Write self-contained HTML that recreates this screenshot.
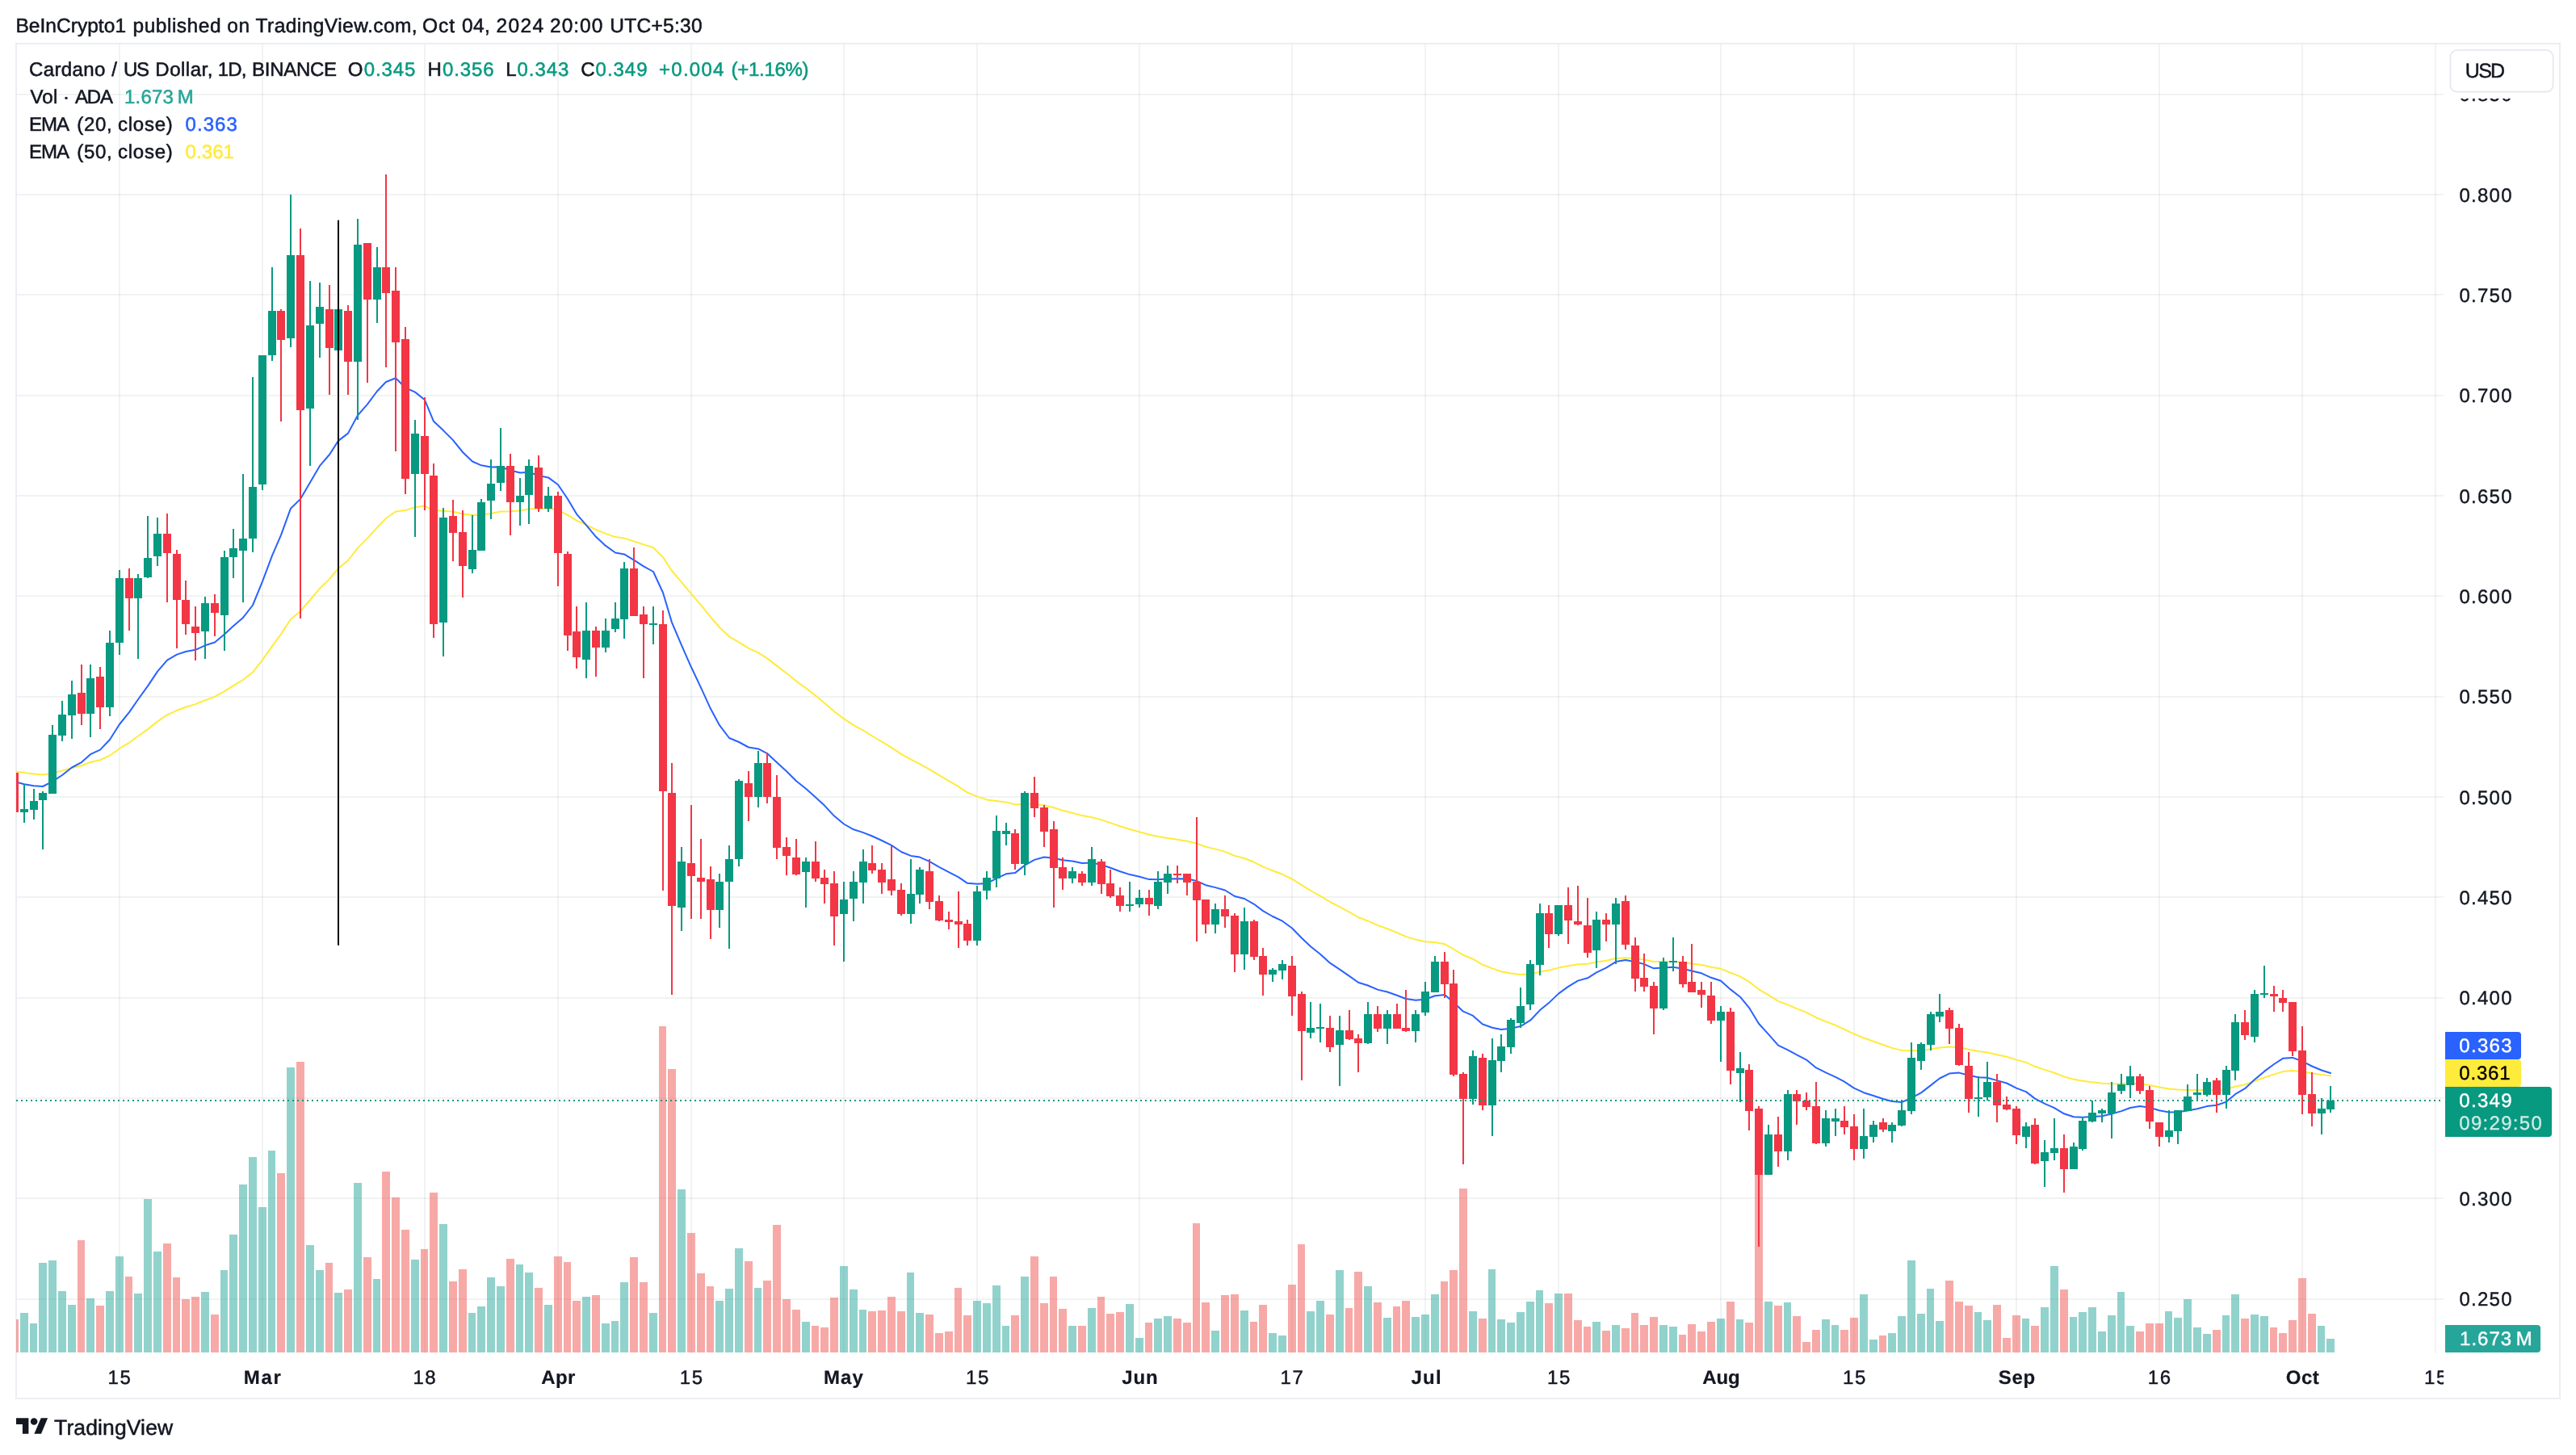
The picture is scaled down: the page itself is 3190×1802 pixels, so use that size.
<!DOCTYPE html><html><head><meta charset="utf-8"><title>ADAUSD</title><style>html,body{margin:0;padding:0;background:#fff}body{width:3190px;height:1802px;overflow:hidden}svg{display:block}text{font-family:"Liberation Sans",sans-serif;fill:#131722;-webkit-font-smoothing:antialiased;text-rendering:geometricPrecision}</style></head><body>
<svg width="3190" height="1802" viewBox="0 0 3190 1802" style="will-change:transform">
<rect width="3190" height="1802" fill="#fff"/>
<defs><clipPath id="cp"><rect x="20" y="55" width="2996" height="1621"/></clipPath><clipPath id="ct"><rect x="21" y="1676" width="3005" height="55"/></clipPath></defs>
<rect x="20" y="54" width="3150" height="1678" fill="none" stroke="#eceef3" stroke-width="2" shape-rendering="crispEdges"/>
<path d="M148 55v1621M325 55v1621M526 55v1621M691 55v1621M856 55v1621M1045 55v1621M1210 55v1621M1411 55v1621M1600 55v1621M1765 55v1621M1930 55v1621M2131 55v1621M2296 55v1621M2497 55v1621M2674 55v1621M2851 55v1621M3016 55V1676" stroke="#002525" stroke-opacity=".055" stroke-width="2" fill="none" shape-rendering="crispEdges"/>
<path d="M21 117H3026M21 241H3026M21 365H3026M21 490H3026M21 614H3026M21 738H3026M21 863H3026M21 987H3026M21 1111H3026M21 1236H3026M21 1360H3026M21 1484H3026M21 1609H3026" stroke="#002525" stroke-opacity=".055" stroke-width="2" fill="none" shape-rendering="crispEdges"/>
<g clip-path="url(#cp)" shape-rendering="crispEdges">
<path d="M25 1626h10V1675h-10zM37 1639h9V1675h-9zM48 1564h10V1675h-10zM60 1561h10V1675h-10zM72 1599h10V1675h-10zM84 1616h10V1675h-10zM107 1608h10V1675h-10zM131 1599h10V1675h-10zM143 1556h10V1675h-10zM166 1602h10V1675h-10zM178 1485h10V1675h-10zM190 1550h10V1675h-10zM249 1600h10V1675h-10zM273 1573h9V1675h-9zM284 1529h10V1675h-10zM296 1467h10V1675h-10zM308 1433h10V1675h-10zM320 1495h10V1675h-10zM332 1425h9V1675h-9zM355 1322h10V1675h-10zM379 1542h10V1675h-10zM391 1573h10V1675h-10zM414 1601h10V1675h-10zM438 1465h10V1675h-10zM462 1584h9V1675h-9zM509 1560h10V1675h-10zM544 1516h10V1675h-10zM580 1626h9V1675h-9zM591 1618h10V1675h-10zM603 1582h10V1675h-10zM615 1593h10V1675h-10zM639 1566h9V1675h-9zM650 1576h10V1675h-10zM674 1616h10V1675h-10zM721 1606h10V1675h-10zM745 1639h10V1675h-10zM757 1636h9V1675h-9zM768 1588h10V1675h-10zM804 1626h10V1675h-10zM839 1473h10V1675h-10zM886 1611h10V1675h-10zM898 1596h10V1675h-10zM910 1546h10V1675h-10zM934 1595h9V1675h-9zM993 1637h10V1675h-10zM1040 1568h10V1675h-10zM1052 1597h10V1675h-10zM1064 1622h9V1675h-9zM1123 1576h9V1675h-9zM1134 1626h10V1675h-10zM1205 1611h10V1675h-10zM1217 1614h10V1675h-10zM1229 1592h10V1675h-10zM1241 1642h9V1675h-9zM1264 1581h10V1675h-10zM1323 1642h10V1675h-10zM1347 1620h10V1675h-10zM1394 1615h10V1675h-10zM1406 1657h10V1675h-10zM1429 1633h10V1675h-10zM1441 1630h10V1675h-10zM1500 1648h10V1675h-10zM1536 1623h10V1675h-10zM1571 1651h10V1675h-10zM1583 1654h10V1675h-10zM1618 1624h10V1675h-10zM1630 1611h10V1675h-10zM1654 1573h10V1675h-10zM1689 1593h10V1675h-10zM1713 1632h10V1675h-10zM1748 1631h10V1675h-10zM1760 1628h10V1675h-10zM1772 1603h10V1675h-10zM1819 1624h10V1675h-10zM1843 1572h9V1675h-9zM1854 1634h10V1675h-10zM1866 1638h10V1675h-10zM1878 1625h10V1675h-10zM1890 1612h10V1675h-10zM1902 1598h9V1675h-9zM1925 1602h10V1675h-10zM1972 1637h10V1675h-10zM1996 1641h10V1675h-10zM2055 1641h10V1675h-10zM2067 1643h10V1675h-10zM2126 1633h10V1675h-10zM2150 1634h9V1675h-9zM2185 1612h10V1675h-10zM2209 1613h9V1675h-9zM2256 1634h10V1675h-10zM2268 1641h9V1675h-9zM2303 1603h10V1675h-10zM2315 1659h10V1675h-10zM2338 1651h10V1675h-10zM2350 1630h10V1675h-10zM2362 1561h10V1675h-10zM2374 1627h10V1675h-10zM2386 1596h9V1675h-9zM2397 1636h10V1675h-10zM2445 1625h9V1675h-9zM2456 1635h10V1675h-10zM2504 1633h9V1675h-9zM2527 1619h10V1675h-10zM2539 1568h10V1675h-10zM2563 1631h9V1675h-9zM2574 1625h10V1675h-10zM2586 1619h10V1675h-10zM2598 1649h10V1675h-10zM2610 1629h10V1675h-10zM2622 1600h9V1675h-9zM2633 1642h10V1675h-10zM2681 1624h9V1675h-9zM2692 1632h10V1675h-10zM2704 1609h10V1675h-10zM2716 1644h10V1675h-10zM2728 1652h10V1675h-10zM2752 1629h9V1675h-9zM2763 1603h10V1675h-10zM2787 1628h10V1675h-10zM2799 1630h10V1675h-10zM2870 1642h9V1675h-9zM2881 1658h10V1675h-10z" fill="#26a69a" fill-opacity=".5"/>
<path d="M13 1634h10V1675h-10zM96 1536h9V1675h-9zM119 1617h10V1675h-10zM155 1581h9V1675h-9zM202 1540h10V1675h-10zM214 1582h9V1675h-9zM225 1609h10V1675h-10zM237 1606h10V1675h-10zM261 1628h10V1675h-10zM343 1453h10V1675h-10zM367 1315h10V1675h-10zM403 1564h9V1675h-9zM426 1597h10V1675h-10zM450 1557h10V1675h-10zM473 1451h10V1675h-10zM485 1483h10V1675h-10zM497 1523h10V1675h-10zM521 1547h9V1675h-9zM532 1477h10V1675h-10zM556 1587h10V1675h-10zM568 1572h10V1675h-10zM627 1559h10V1675h-10zM662 1595h10V1675h-10zM686 1556h10V1675h-10zM698 1563h9V1675h-9zM709 1611h10V1675h-10zM733 1604h10V1675h-10zM780 1557h10V1675h-10zM792 1588h10V1675h-10zM816 1271h9V1675h-9zM827 1324h10V1675h-10zM851 1527h10V1675h-10zM863 1577h10V1675h-10zM875 1593h9V1675h-9zM922 1562h10V1675h-10zM945 1586h10V1675h-10zM957 1517h10V1675h-10zM969 1609h10V1675h-10zM981 1622h10V1675h-10zM1005 1642h9V1675h-9zM1016 1644h10V1675h-10zM1028 1607h10V1675h-10zM1075 1624h10V1675h-10zM1087 1623h10V1675h-10zM1099 1606h10V1675h-10zM1111 1624h10V1675h-10zM1146 1628h10V1675h-10zM1158 1651h10V1675h-10zM1170 1649h10V1675h-10zM1182 1595h9V1675h-9zM1193 1629h10V1675h-10zM1252 1629h10V1675h-10zM1276 1556h10V1675h-10zM1288 1614h10V1675h-10zM1300 1581h9V1675h-9zM1311 1621h10V1675h-10zM1335 1642h10V1675h-10zM1359 1606h9V1675h-9zM1370 1627h10V1675h-10zM1382 1625h10V1675h-10zM1418 1638h9V1675h-9zM1453 1633h10V1675h-10zM1465 1638h10V1675h-10zM1477 1515h9V1675h-9zM1488 1613h10V1675h-10zM1512 1604h10V1675h-10zM1524 1603h10V1675h-10zM1548 1637h9V1675h-9zM1559 1616h10V1675h-10zM1595 1591h10V1675h-10zM1607 1541h9V1675h-9zM1642 1628h10V1675h-10zM1666 1620h9V1675h-9zM1677 1575h10V1675h-10zM1701 1613h10V1675h-10zM1725 1618h9V1675h-9zM1736 1611h10V1675h-10zM1784 1587h9V1675h-9zM1795 1573h10V1675h-10zM1807 1472h10V1675h-10zM1831 1633h10V1675h-10zM1913 1614h10V1675h-10zM1937 1602h10V1675h-10zM1949 1635h10V1675h-10zM1961 1643h9V1675h-9zM1984 1648h10V1675h-10zM2008 1645h10V1675h-10zM2020 1626h9V1675h-9zM2031 1641h10V1675h-10zM2043 1631h10V1675h-10zM2079 1653h9V1675h-9zM2090 1640h10V1675h-10zM2102 1649h10V1675h-10zM2114 1637h10V1675h-10zM2138 1612h10V1675h-10zM2161 1638h10V1675h-10zM2173 1419h10V1675h-10zM2197 1617h10V1675h-10zM2220 1630h10V1675h-10zM2232 1662h10V1675h-10zM2244 1647h10V1675h-10zM2279 1647h10V1675h-10zM2291 1632h10V1675h-10zM2327 1654h9V1675h-9zM2409 1586h10V1675h-10zM2421 1612h10V1675h-10zM2433 1617h10V1675h-10zM2468 1616h10V1675h-10zM2480 1657h10V1675h-10zM2492 1629h10V1675h-10zM2515 1642h10V1675h-10zM2551 1597h10V1675h-10zM2645 1649h10V1675h-10zM2657 1639h10V1675h-10zM2669 1639h10V1675h-10zM2740 1647h10V1675h-10zM2775 1633h10V1675h-10zM2811 1644h9V1675h-9zM2822 1651h10V1675h-10zM2834 1635h10V1675h-10zM2846 1583h10V1675h-10zM2858 1627h10V1675h-10z" fill="#ef5350" fill-opacity=".5"/>
</g>
<g clip-path="url(#cp)" fill="none" stroke-linejoin="round" stroke-linecap="round" stroke-width="2">
<path d="M18 955.3L30 957.1L42 958.5L53 959.4L65 957.5L77 954.6L89 950.9L101 948.3L112 944.0L124 941.3L136 935.7L148 927.0L160 919.8L171 911.8L183 903.1L195 893.6L207 885.4L219 879.8L230 875.7L242 872.1L254 867.2L266 862.9L278 856.1L289 849.2L301 842.0L313 832.6L325 817.3L337 800.3L348 785.4L360 767.0L372 756.9L384 743.0L396 728.8L408 717.1L419 704.0L431 694.0L443 678.6L455 666.6L467 653.4L478 642.0L490 633.5L502 631.9L514 628.2L526 626.6L537 632.3L549 632.7L561 633.7L573 636.4L585 638.1L596 637.5L608 635.9L620 633.6L632 633.2L644 632.4L655 630.3L667 630.2L679 629.6L691 631.8L703 637.8L714 644.7L726 650.1L738 656.0L750 660.9L762 665.1L773 666.6L785 670.4L797 674.4L809 678.3L821 690.1L832 707.0L844 721.1L856 735.4L868 749.4L880 764.2L891 777.0L903 788.3L915 795.3L927 802.8L939 808.4L950 815.4L962 824.6L974 833.8L986 843.6L998 852.3L1010 861.6L1021 870.7L1033 881.1L1045 890.2L1057 898.1L1069 904.7L1080 911.5L1092 918.6L1104 925.9L1116 933.9L1128 940.7L1139 946.1L1151 952.8L1163 960.1L1175 967.2L1187 974.2L1198 981.6L1210 986.4L1222 990.4L1234 991.9L1246 993.4L1257 996.4L1269 995.8L1281 996.0L1293 997.3L1305 1000.3L1316 1003.8L1328 1006.7L1340 1010.1L1352 1012.2L1364 1015.4L1375 1019.1L1387 1023.2L1399 1027.0L1411 1030.3L1423 1033.8L1434 1036.1L1446 1037.9L1458 1039.7L1470 1041.8L1482 1044.7L1493 1048.6L1505 1051.6L1517 1054.9L1529 1059.9L1541 1063.0L1553 1067.8L1564 1073.3L1576 1078.3L1588 1082.8L1600 1088.7L1612 1096.1L1623 1103.0L1635 1109.7L1647 1117.0L1659 1123.2L1671 1129.7L1682 1136.0L1694 1140.7L1706 1145.9L1718 1150.3L1730 1155.1L1741 1159.9L1753 1163.6L1765 1166.2L1777 1167.1L1789 1169.2L1800 1175.5L1812 1182.8L1824 1187.7L1836 1194.8L1848 1199.4L1859 1203.2L1871 1205.5L1883 1207.1L1895 1206.6L1907 1203.6L1918 1201.8L1930 1198.6L1942 1196.3L1954 1194.3L1966 1193.7L1977 1191.6L1989 1189.7L2001 1186.9L2013 1186.3L2025 1187.3L2036 1188.6L2048 1191.0L2060 1191.0L2072 1190.9L2084 1192.0L2095 1193.5L2107 1195.0L2119 1197.7L2131 1199.8L2143 1204.8L2155 1209.4L2166 1215.9L2178 1225.3L2190 1232.3L2202 1239.9L2214 1244.4L2225 1249.1L2237 1253.9L2249 1260.2L2261 1265.1L2273 1269.8L2284 1274.8L2296 1280.6L2308 1285.5L2320 1289.7L2332 1294.0L2343 1297.9L2355 1300.9L2367 1301.3L2379 1300.9L2391 1299.2L2402 1297.4L2414 1296.4L2426 1297.3L2438 1299.8L2450 1302.1L2461 1303.6L2473 1306.2L2485 1308.8L2497 1312.6L2509 1315.9L2520 1320.8L2532 1324.9L2544 1328.7L2556 1333.4L2568 1336.8L2579 1338.8L2591 1340.3L2603 1341.7L2615 1342.1L2627 1342.2L2638 1341.8L2650 1342.2L2662 1344.0L2674 1346.5L2686 1348.6L2697 1349.6L2709 1350.0L2721 1350.1L2733 1349.7L2745 1349.9L2757 1348.9L2768 1345.7L2780 1343.2L2792 1338.8L2804 1334.5L2816 1330.6L2827 1327.1L2839 1326.1L2851 1327.3L2863 1329.3L2875 1331.0L2886 1332.3" stroke="#ffeb3b"/>
<path d="M18 968.0L30 971.2L42 973.2L53 974.0L65 967.9L77 960.0L89 950.5L101 944.1L112 934.2L124 928.6L136 916.0L148 897.0L160 882.1L171 866.3L183 849.6L195 831.6L207 817.6L219 810.6L230 807.0L242 804.8L254 799.3L266 795.5L278 785.4L289 775.3L301 764.9L313 749.5L325 720.1L337 688.2L348 662.7L360 629.7L372 618.1L384 597.6L396 576.9L408 563.0L419 545.9L431 536.6L443 514.3L455 500.7L467 484.5L478 473.0L490 468.3L502 480.2L514 485.6L526 495.3L537 521.8L549 533.1L561 545.1L573 560.0L585 571.5L596 576.3L608 578.5L620 578.3L632 582.5L644 585.5L655 584.7L667 589.0L679 591.4L691 600.2L703 618.0L714 636.6L726 650.4L738 664.8L750 675.9L762 684.5L773 686.4L785 693.7L797 701.3L809 708.0L821 734.0L832 770.9L844 799.1L856 826.3L868 851.6L880 877.8L891 898.2L903 914.0L915 919.0L927 925.5L939 927.4L950 933.1L962 944.2L974 955.2L986 967.3L998 976.8L1010 987.4L1021 997.6L1033 1010.6L1045 1020.5L1057 1027.3L1069 1031.1L1080 1035.5L1092 1041.0L1104 1046.9L1116 1055.0L1128 1059.9L1139 1061.6L1151 1066.8L1163 1073.8L1175 1080.2L1187 1086.4L1198 1093.8L1210 1094.8L1222 1094.1L1234 1087.9L1246 1082.3L1257 1081.1L1269 1071.6L1281 1064.9L1293 1061.5L1305 1062.8L1316 1065.2L1328 1066.5L1340 1069.0L1352 1068.5L1364 1071.0L1375 1074.7L1387 1079.2L1399 1083.1L1411 1085.8L1423 1089.1L1434 1089.3L1446 1088.6L1458 1088.2L1470 1088.6L1482 1091.1L1493 1096.2L1505 1099.1L1517 1102.5L1529 1110.0L1541 1113.0L1553 1119.8L1564 1128.1L1576 1135.0L1588 1140.7L1600 1149.5L1612 1161.7L1623 1172.2L1635 1181.7L1647 1192.7L1659 1200.6L1671 1208.9L1682 1216.8L1694 1220.5L1706 1225.6L1718 1228.5L1730 1232.8L1741 1237.0L1753 1238.8L1765 1237.7L1777 1233.3L1789 1231.9L1800 1241.3L1812 1252.7L1824 1257.9L1836 1268.5L1848 1272.7L1859 1274.9L1871 1273.8L1883 1271.1L1895 1263.7L1907 1251.1L1918 1242.1L1930 1230.6L1942 1221.9L1954 1214.6L1966 1211.3L1977 1204.4L1989 1198.7L2001 1191.1L2013 1189.1L2025 1191.2L2036 1194.1L2048 1199.3L2060 1198.5L2072 1197.7L2084 1199.7L2095 1202.5L2107 1205.3L2119 1210.8L2131 1214.8L2143 1225.4L2155 1234.7L2166 1248.1L2178 1267.8L2190 1280.9L2202 1294.7L2214 1300.4L2225 1306.4L2237 1312.6L2249 1322.4L2261 1328.4L2273 1333.8L2284 1339.7L2296 1347.6L2308 1353.2L2320 1357.0L2332 1361.0L2343 1364.0L2355 1365.0L2367 1359.8L2379 1353.4L2391 1344.1L2402 1335.5L2414 1329.6L2426 1328.6L2438 1331.7L2450 1334.3L2461 1334.8L2473 1338.1L2485 1341.5L2497 1347.6L2509 1352.1L2520 1360.6L2532 1366.9L2544 1372.1L2556 1379.3L2568 1383.2L2579 1383.7L2591 1383.1L2603 1382.3L2615 1379.5L2627 1376.1L2638 1372.0L2650 1370.0L2662 1371.8L2674 1375.2L2686 1377.6L2697 1377.3L2709 1375.5L2721 1373.3L2733 1370.1L2745 1368.8L2757 1364.6L2768 1355.2L2780 1348.2L2792 1337.1L2804 1326.9L2816 1318.0L2827 1310.8L2839 1309.9L2851 1314.3L2863 1320.5L2875 1325.5L2886 1329.0" stroke="#2962ff"/>
</g>
<g clip-path="url(#cp)" shape-rendering="crispEdges">
<path d="M29 971h2V1019h-2zM25 1002h10V1006h-10zM41 977h2V1015h-2zM37 992h10V1003h-10zM52 980h2V1052h-2zM48 982h10V991h-10zM64 898h2V983h-2zM60 910h10V983h-10zM76 868h2V918h-2zM72 885h10V911h-10zM88 843h2V915h-2zM84 860h10V886h-10zM111 823h2V913h-2zM107 840h10V884h-10zM135 781h2V887h-2zM131 796h10V876h-10zM147 706h2V811h-2zM143 716h10V796h-10zM170 711h2V816h-2zM166 716h10V741h-10zM182 639h2V716h-2zM178 691h10V715h-10zM194 641h2V701h-2zM190 661h10V689h-10zM253 739h2V816h-2zM249 747h10V782h-10zM277 682h2V806h-2zM273 690h10V762h-10zM288 655h2V716h-2zM284 679h10V690h-10zM300 587h2V746h-2zM296 667h10V682h-10zM312 467h2V684h-2zM308 603h10V667h-10zM324 440h2V607h-2zM320 440h10V600h-10zM336 331h2V447h-2zM332 385h10V440h-10zM359 241h2V430h-2zM355 316h10V419h-10zM383 348h2V577h-2zM379 403h10V506h-10zM395 350h2V443h-2zM391 380h10V401h-10zM418 373h2V438h-2zM414 383h10V434h-10zM442 271h2V520h-2zM438 303h10V448h-10zM466 306h2V400h-2zM462 331h10V371h-10zM513 520h2V665h-2zM509 537h10V587h-10zM548 629h2V813h-2zM544 641h10V771h-10zM584 638h2V710h-2zM580 681h10V705h-10zM595 618h2V682h-2zM591 622h10V682h-10zM607 569h2V643h-2zM603 599h10V620h-10zM619 530h2V608h-2zM615 577h10V598h-10zM643 592h2V651h-2zM639 614h10V622h-10zM654 569h2V649h-2zM650 577h10V613h-10zM678 603h2V634h-2zM674 614h10V630h-10zM725 746h2V840h-2zM721 781h10V817h-10zM749 766h2V808h-2zM745 781h10V802h-10zM761 746h2V783h-2zM757 766h10V779h-10zM772 696h2V791h-2zM768 704h10V767h-10zM808 751h2V798h-2zM804 772h10V774h-10zM843 1049h2V1153h-2zM839 1067h10V1124h-10zM890 1082h2V1149h-2zM886 1092h10V1127h-10zM902 1047h2V1175h-2zM898 1064h10V1092h-10zM914 965h2V1073h-2zM910 967h10V1064h-10zM938 930h2V1000h-2zM934 945h10V987h-10zM997 1062h2V1124h-2zM993 1067h10V1080h-10zM1044 1092h2V1191h-2zM1040 1114h10V1132h-10zM1056 1079h2V1141h-2zM1052 1092h10V1113h-10zM1068 1052h2V1119h-2zM1064 1067h10V1093h-10zM1127 1064h2V1144h-2zM1123 1107h10V1132h-10zM1138 1074h2V1119h-2zM1134 1077h10V1108h-10zM1209 1097h2V1171h-2zM1205 1104h10V1165h-10zM1221 1079h2V1114h-2zM1217 1087h10V1103h-10zM1233 1010h2V1099h-2zM1229 1029h10V1088h-10zM1245 1019h2V1047h-2zM1241 1029h10V1033h-10zM1268 980h2V1084h-2zM1264 982h10V1070h-10zM1327 1074h2V1094h-2zM1323 1079h10V1088h-10zM1351 1049h2V1097h-2zM1347 1064h10V1093h-10zM1398 1092h2V1129h-2zM1394 1120h10V1122h-10zM1410 1102h2V1124h-2zM1406 1112h10V1120h-10zM1433 1079h2V1126h-2zM1429 1092h10V1122h-10zM1445 1072h2V1107h-2zM1441 1082h10V1093h-10zM1504 1119h2V1156h-2zM1500 1126h10V1145h-10zM1540 1124h2V1201h-2zM1536 1141h10V1182h-10zM1575 1199h2V1216h-2zM1571 1201h10V1207h-10zM1587 1189h2V1213h-2zM1583 1194h10V1202h-10zM1622 1241h2V1286h-2zM1618 1273h10V1279h-10zM1634 1243h2V1291h-2zM1630 1272h10V1274h-10zM1658 1258h2V1345h-2zM1654 1276h10V1294h-10zM1693 1241h2V1293h-2zM1689 1256h10V1292h-10zM1717 1251h2V1293h-2zM1713 1256h10V1274h-10zM1752 1251h2V1291h-2zM1748 1256h10V1277h-10zM1764 1216h2V1258h-2zM1760 1228h10V1254h-10zM1776 1184h2V1229h-2zM1772 1191h10V1229h-10zM1823 1301h2V1368h-2zM1819 1308h10V1361h-10zM1847 1286h2V1407h-2zM1843 1313h10V1369h-10zM1858 1281h2V1328h-2zM1854 1296h10V1314h-10zM1870 1261h2V1305h-2zM1866 1263h10V1297h-10zM1882 1223h2V1273h-2zM1878 1246h10V1267h-10zM1894 1189h2V1251h-2zM1890 1194h10V1244h-10zM1906 1119h2V1208h-2zM1902 1131h10V1195h-10zM1929 1121h2V1159h-2zM1925 1121h10V1157h-10zM1976 1129h2V1199h-2zM1972 1139h10V1177h-10zM2000 1112h2V1194h-2zM1996 1119h10V1145h-10zM2059 1186h2V1251h-2zM2055 1191h10V1249h-10zM2071 1161h2V1203h-2zM2067 1190h10V1192h-10zM2130 1246h2V1315h-2zM2126 1253h10V1264h-10zM2154 1303h2V1365h-2zM2150 1323h10V1329h-10zM2189 1393h2V1455h-2zM2185 1405h10V1455h-10zM2213 1350h2V1437h-2zM2209 1355h10V1426h-10zM2260 1375h2V1420h-2zM2256 1385h10V1416h-10zM2272 1373h2V1407h-2zM2268 1385h10V1389h-10zM2307 1373h2V1435h-2zM2303 1407h10V1423h-10zM2319 1388h2V1415h-2zM2315 1393h10V1408h-10zM2342 1390h2V1415h-2zM2338 1393h10V1401h-10zM2354 1362h2V1395h-2zM2350 1375h10V1394h-10zM2366 1291h2V1380h-2zM2362 1310h10V1376h-10zM2378 1291h2V1325h-2zM2374 1293h10V1314h-10zM2390 1253h2V1301h-2zM2386 1256h10V1294h-10zM2401 1231h2V1266h-2zM2397 1253h10V1259h-10zM2449 1333h2V1383h-2zM2445 1359h10V1361h-10zM2460 1315h2V1363h-2zM2456 1340h10V1359h-10zM2508 1390h2V1422h-2zM2504 1395h10V1408h-10zM2531 1412h2V1470h-2zM2527 1427h10V1438h-10zM2543 1385h2V1437h-2zM2539 1422h10V1428h-10zM2567 1415h2V1448h-2zM2563 1420h10V1448h-10zM2578 1383h2V1425h-2zM2574 1388h10V1423h-10zM2590 1363h2V1390h-2zM2586 1378h10V1389h-10zM2602 1373h2V1390h-2zM2598 1375h10V1379h-10zM2614 1340h2V1410h-2zM2610 1353h10V1379h-10zM2626 1330h2V1355h-2zM2622 1343h10V1351h-10zM2637 1320h2V1360h-2zM2633 1333h10V1344h-10zM2685 1375h2V1415h-2zM2681 1400h10V1408h-10zM2696 1375h2V1417h-2zM2692 1375h10V1401h-10zM2708 1343h2V1376h-2zM2704 1358h10V1376h-10zM2720 1330h2V1364h-2zM2716 1353h10V1356h-10zM2732 1335h2V1358h-2zM2728 1340h10V1356h-10zM2756 1320h2V1373h-2zM2752 1325h10V1356h-10zM2767 1256h2V1338h-2zM2763 1266h10V1326h-10zM2791 1226h2V1291h-2zM2787 1231h10V1284h-10zM2803 1196h2V1236h-2zM2799 1230h10V1232h-10zM2874 1360h2V1405h-2zM2870 1373h10V1379h-10zM2885 1345h2V1378h-2zM2881 1363h10V1374h-10z" fill="#089981"/>
<path d="M17 950h2V1012h-2zM13 957h10V1006h-10zM100 823h2V898h-2zM96 858h10V884h-10zM123 826h2V903h-2zM119 838h10V876h-10zM159 704h2V781h-2zM155 716h10V741h-10zM206 636h2V746h-2zM202 661h10V685h-10zM218 681h2V803h-2zM214 686h10V743h-10zM229 719h2V786h-2zM225 743h10V773h-10zM241 751h2V818h-2zM237 776h10V784h-10zM265 736h2V788h-2zM261 747h10V759h-10zM347 383h2V522h-2zM343 385h10V421h-10zM371 283h2V766h-2zM367 316h10V508h-10zM407 353h2V489h-2zM403 383h10V431h-10zM430 378h2V489h-2zM426 385h10V448h-10zM454 301h2V474h-2zM450 301h10V371h-10zM477 216h2V455h-2zM473 331h10V363h-10zM489 331h2V559h-2zM485 360h10V424h-10zM501 405h2V612h-2zM497 420h10V593h-10zM525 492h2V632h-2zM521 540h10V587h-10zM536 574h2V790h-2zM532 589h10V773h-10zM560 619h2V695h-2zM556 639h10V660h-10zM572 632h2V740h-2zM568 659h10V701h-10zM631 562h2V663h-2zM627 577h10V622h-10zM666 564h2V634h-2zM662 579h10V630h-10zM690 609h2V726h-2zM686 614h10V685h-10zM702 683h2V806h-2zM698 686h10V787h-10zM713 751h2V828h-2zM709 782h10V814h-10zM737 776h2V838h-2zM733 781h10V802h-10zM784 678h2V763h-2zM780 704h10V763h-10zM796 751h2V840h-2zM792 761h10V773h-10zM820 756h2V1103h-2zM816 773h10V980h-10zM831 945h2V1232h-2zM827 982h10V1122h-10zM855 997h2V1138h-2zM851 1069h10V1085h-10zM867 1039h2V1138h-2zM863 1087h10V1092h-10zM879 1073h2V1163h-2zM875 1089h10V1127h-10zM926 955h2V1017h-2zM922 970h10V987h-10zM949 932h2V995h-2zM945 945h10V987h-10zM961 960h2V1064h-2zM957 987h10V1050h-10zM973 1037h2V1084h-2zM969 1049h10V1060h-10zM985 1039h2V1084h-2zM981 1062h10V1083h-10zM1009 1042h2V1092h-2zM1005 1067h10V1088h-10zM1020 1077h2V1119h-2zM1016 1087h10V1095h-10zM1032 1079h2V1171h-2zM1028 1094h10V1135h-10zM1079 1047h2V1082h-2zM1075 1069h10V1078h-10zM1091 1069h2V1107h-2zM1087 1077h10V1093h-10zM1103 1047h2V1109h-2zM1099 1089h10V1103h-10zM1115 1094h2V1134h-2zM1111 1102h10V1132h-10zM1150 1064h2V1126h-2zM1146 1079h10V1117h-10zM1162 1109h2V1141h-2zM1158 1116h10V1140h-10zM1174 1129h2V1151h-2zM1170 1139h10V1142h-10zM1186 1104h2V1174h-2zM1182 1141h10V1145h-10zM1197 1139h2V1171h-2zM1193 1144h10V1165h-10zM1256 1027h2V1077h-2zM1252 1032h10V1070h-10zM1280 962h2V1012h-2zM1276 982h10V1001h-10zM1292 997h2V1049h-2zM1288 1000h10V1030h-10zM1304 1017h2V1124h-2zM1300 1027h10V1075h-10zM1315 1062h2V1102h-2zM1311 1074h10V1088h-10zM1339 1079h2V1097h-2zM1335 1082h10V1093h-10zM1363 1064h2V1107h-2zM1359 1067h10V1095h-10zM1374 1077h2V1112h-2zM1370 1094h10V1110h-10zM1386 1099h2V1129h-2zM1382 1109h10V1122h-10zM1422 1102h2V1134h-2zM1418 1112h10V1120h-10zM1457 1072h2V1094h-2zM1453 1082h10V1084h-10zM1469 1082h2V1109h-2zM1465 1082h10V1093h-10zM1481 1012h2V1166h-2zM1477 1092h10V1115h-10zM1492 1114h2V1156h-2zM1488 1114h10V1145h-10zM1516 1109h2V1149h-2zM1512 1126h10V1135h-10zM1528 1131h2V1204h-2zM1524 1134h10V1182h-10zM1552 1139h2V1189h-2zM1548 1141h10V1185h-10zM1563 1174h2V1233h-2zM1559 1184h10V1207h-10zM1599 1184h2V1258h-2zM1595 1196h10V1234h-10zM1611 1228h2V1338h-2zM1607 1231h10V1277h-10zM1646 1258h2V1303h-2zM1642 1273h10V1297h-10zM1670 1251h2V1288h-2zM1666 1276h10V1287h-10zM1681 1281h2V1328h-2zM1677 1286h10V1292h-10zM1705 1246h2V1278h-2zM1701 1256h10V1274h-10zM1729 1243h2V1274h-2zM1725 1256h10V1274h-10zM1740 1226h2V1278h-2zM1736 1273h10V1277h-10zM1788 1179h2V1236h-2zM1784 1191h10V1219h-10zM1799 1201h2V1333h-2zM1795 1218h10V1331h-10zM1811 1328h2V1442h-2zM1807 1330h10V1361h-10zM1835 1305h2V1375h-2zM1831 1310h10V1369h-10zM1917 1121h2V1174h-2zM1913 1131h10V1157h-10zM1941 1099h2V1169h-2zM1937 1121h10V1140h-10zM1953 1097h2V1146h-2zM1949 1141h10V1145h-10zM1965 1112h2V1186h-2zM1961 1146h10V1180h-10zM1988 1131h2V1166h-2zM1984 1139h10V1145h-10zM2012 1109h2V1176h-2zM2008 1116h10V1170h-10zM2024 1161h2V1228h-2zM2020 1171h10V1212h-10zM2035 1181h2V1228h-2zM2031 1211h10V1222h-10zM2047 1216h2V1281h-2zM2043 1221h10V1249h-10zM2083 1184h2V1223h-2zM2079 1191h10V1219h-10zM2094 1169h2V1229h-2zM2090 1216h10V1229h-10zM2106 1216h2V1248h-2zM2102 1226h10V1232h-10zM2118 1216h2V1268h-2zM2114 1233h10V1264h-10zM2142 1248h2V1343h-2zM2138 1253h10V1326h-10zM2165 1318h2V1400h-2zM2161 1325h10V1376h-10zM2177 1370h2V1544h-2zM2173 1373h10V1455h-10zM2201 1383h2V1445h-2zM2197 1405h10V1426h-10zM2224 1350h2V1393h-2zM2220 1355h10V1364h-10zM2236 1353h2V1375h-2zM2232 1363h10V1371h-10zM2248 1340h2V1417h-2zM2244 1370h10V1416h-10zM2283 1370h2V1405h-2zM2279 1388h10V1396h-10zM2295 1380h2V1437h-2zM2291 1395h10V1423h-10zM2331 1385h2V1402h-2zM2327 1390h10V1399h-10zM2413 1248h2V1293h-2zM2409 1251h10V1274h-10zM2425 1268h2V1320h-2zM2421 1273h10V1319h-10zM2437 1303h2V1378h-2zM2433 1320h10V1361h-10zM2472 1330h2V1390h-2zM2468 1340h10V1369h-10zM2484 1358h2V1375h-2zM2480 1368h10V1374h-10zM2496 1370h2V1417h-2zM2492 1373h10V1406h-10zM2519 1385h2V1442h-2zM2515 1393h10V1441h-10zM2555 1405h2V1477h-2zM2551 1422h10V1448h-10zM2649 1330h2V1355h-2zM2645 1333h10V1351h-10zM2661 1345h2V1398h-2zM2657 1350h10V1389h-10zM2673 1390h2V1420h-2zM2669 1390h10V1408h-10zM2744 1335h2V1378h-2zM2740 1338h10V1356h-10zM2779 1251h2V1288h-2zM2775 1266h10V1282h-10zM2815 1221h2V1253h-2zM2811 1231h10V1234h-10zM2826 1226h2V1253h-2zM2822 1236h10V1242h-10zM2838 1241h2V1308h-2zM2834 1241h10V1302h-10zM2850 1271h2V1380h-2zM2846 1301h10V1356h-10zM2862 1328h2V1395h-2zM2858 1355h10V1379h-10z" fill="#f23645"/>
</g>
<path d="M419 273.5V1170" stroke="#000" stroke-width="2" stroke-linecap="round"/>
<path d="M20 1363H3023" stroke="#089981" stroke-width="2" stroke-dasharray="2 4" stroke-dashoffset="0" shape-rendering="crispEdges"/>
<text x="3045.50" y="125.3" font-size="24" letter-spacing="1.247" style="stroke:#131722;stroke-width:0.4">0.850</text>
<text x="3045.50" y="249.6" font-size="24" letter-spacing="1.247" style="stroke:#131722;stroke-width:0.4">0.800</text>
<text x="3045.50" y="373.9" font-size="24" letter-spacing="1.247" style="stroke:#131722;stroke-width:0.4">0.750</text>
<text x="3045.50" y="498.3" font-size="24" letter-spacing="1.247" style="stroke:#131722;stroke-width:0.4">0.700</text>
<text x="3045.50" y="622.6" font-size="24" letter-spacing="1.247" style="stroke:#131722;stroke-width:0.4">0.650</text>
<text x="3045.50" y="746.9" font-size="24" letter-spacing="1.247" style="stroke:#131722;stroke-width:0.4">0.600</text>
<text x="3045.50" y="871.3" font-size="24" letter-spacing="1.247" style="stroke:#131722;stroke-width:0.4">0.550</text>
<text x="3045.50" y="995.6" font-size="24" letter-spacing="1.247" style="stroke:#131722;stroke-width:0.4">0.500</text>
<text x="3045.50" y="1119.9" font-size="24" letter-spacing="1.247" style="stroke:#131722;stroke-width:0.4">0.450</text>
<text x="3045.50" y="1244.3" font-size="24" letter-spacing="1.247" style="stroke:#131722;stroke-width:0.4">0.400</text>
<text x="3045.50" y="1368.6" font-size="24" letter-spacing="1.247" style="stroke:#131722;stroke-width:0.4">0.350</text>
<text x="3045.50" y="1492.9" font-size="24" letter-spacing="1.247" style="stroke:#131722;stroke-width:0.4">0.300</text>
<text x="3045.50" y="1617.3" font-size="24" letter-spacing="1.247" style="stroke:#131722;stroke-width:0.4">0.250</text>
<rect x="3027" y="56" width="141" height="66" fill="#fff"/>
<rect x="3034.4" y="62.2" width="127.2" height="51.5" rx="8" fill="#fff" stroke="#e6e8ef" stroke-width="1.8"/>
<text x="3052.85" y="96" font-size="25" letter-spacing="-1.765" style="stroke:#131722;stroke-width:0.45">USD</text>
<path d="M3028 1278H3118a4 4 0 0 1 4 4V1308a4 4 0 0 1 -4 4H3028z" fill="#2962ff"/>
<path d="M3028 1312H3118a4 4 0 0 1 4 4V1342a4 4 0 0 1 -4 4H3028z" fill="#ffeb3b"/>
<path d="M3028 1346H3156a4 4 0 0 1 4 4V1404a4 4 0 0 1 -4 4H3028z" fill="#089981"/>
<path d="M3028 1641H3142a4 4 0 0 1 4 4V1671a4 4 0 0 1 -4 4H3028z" fill="#26a69a"/>
<text x="3045.30" y="1303.3" font-size="24" letter-spacing="1.297" style="fill:#fff;stroke:#fff;stroke-width:0.4">0.363</text>
<text x="3045.30" y="1337.3" font-size="24" letter-spacing="0.797" style="fill:#000;stroke:#000;stroke-width:0.4">0.361</text>
<text x="3045.30" y="1371.3" font-size="24" letter-spacing="1.297" style="fill:#fff;stroke:#fff;stroke-width:0.4">0.349</text>
<text x="3045.30" y="1399.2" font-size="24" letter-spacing="1.289" style="fill:#cfebe6;stroke:#cfebe6;stroke-width:0.3">09:29:50</text>
<text x="3046.10" y="1666.2" font-size="24" letter-spacing="0.997" style="fill:#fff;stroke:#fff;stroke-width:0.4">1.673</text>
<text x="3115.70" y="1666.2" font-size="24" style="fill:#fff;stroke:#fff;stroke-width:0.4">M</text>
<g clip-path="url(#ct)">
<text x="133.62" y="1714.3" font-size="24" letter-spacing="1.652" style="stroke:#131722;stroke-width:0.45">15</text>
<text x="301.83" y="1714.3" font-size="24" letter-spacing="1.680" font-weight="bold" style="stroke:#131722;stroke-width:0.2">Mar</text>
<text x="511.55" y="1714.3" font-size="24" letter-spacing="1.252" style="stroke:#131722;stroke-width:0.45">18</text>
<text x="670.16" y="1714.3" font-size="24" letter-spacing="0.454" font-weight="bold" style="stroke:#131722;stroke-width:0.2">Apr</text>
<text x="841.86" y="1714.3" font-size="24" letter-spacing="1.652" style="stroke:#131722;stroke-width:0.45">15</text>
<text x="1019.98" y="1714.3" font-size="24" letter-spacing="1.080" font-weight="bold" style="stroke:#131722;stroke-width:0.2">May</text>
<text x="1195.98" y="1714.3" font-size="24" letter-spacing="1.652" style="stroke:#131722;stroke-width:0.45">15</text>
<text x="1389.20" y="1714.3" font-size="24" letter-spacing="0.946" font-weight="bold" style="stroke:#131722;stroke-width:0.2">Jun</text>
<text x="1585.62" y="1714.3" font-size="24" letter-spacing="1.452" style="stroke:#131722;stroke-width:0.45">17</text>
<text x="1747.42" y="1714.3" font-size="24" letter-spacing="1.346" font-weight="bold" style="stroke:#131722;stroke-width:0.2">Jul</text>
<text x="1916.03" y="1714.3" font-size="24" letter-spacing="1.652" style="stroke:#131722;stroke-width:0.45">15</text>
<text x="2108.30" y="1714.3" font-size="24" letter-spacing="-0.096" font-weight="bold" style="stroke:#131722;stroke-width:0.2">Aug</text>
<text x="2281.95" y="1714.3" font-size="24" letter-spacing="1.652" style="stroke:#131722;stroke-width:0.45">15</text>
<text x="2474.77" y="1714.3" font-size="24" letter-spacing="0.672" font-weight="bold" style="stroke:#131722;stroke-width:0.2">Sep</text>
<text x="2659.68" y="1714.3" font-size="24" letter-spacing="1.652" style="stroke:#131722;stroke-width:0.45">16</text>
<text x="2830.64" y="1714.3" font-size="24" letter-spacing="0.592" font-weight="bold" style="stroke:#131722;stroke-width:0.2">Oct</text>
<text x="3002.00" y="1714.3" font-size="24" letter-spacing="1.652" style="stroke:#131722;stroke-width:0.45">15</text>
</g>
<text x="19.40" y="40.4" font-size="24.5" letter-spacing="0.044" style="stroke:#131722;stroke-width:0.55">BeInCrypto1</text>
<text x="164.50" y="40.4" font-size="24.5" letter-spacing="0.517" style="stroke:#131722;stroke-width:0.55">published</text>
<text x="281.20" y="40.4" font-size="24.5" letter-spacing="0.574" style="stroke:#131722;stroke-width:0.55">on</text>
<text x="316.60" y="40.4" font-size="24.5" letter-spacing="0.443" style="stroke:#131722;stroke-width:0.55">TradingView.com,</text>
<text x="522.90" y="40.4" font-size="24.5" letter-spacing="0.997" style="stroke:#131722;stroke-width:0.55">Oct</text>
<text x="571.90" y="40.4" font-size="24.5" letter-spacing="0.474" style="stroke:#131722;stroke-width:0.55">04,</text>
<text x="614.60" y="40.4" font-size="24.5" letter-spacing="1.308" style="stroke:#131722;stroke-width:0.55">2024</text>
<text x="681.00" y="40.4" font-size="24.5" letter-spacing="1.004" style="stroke:#131722;stroke-width:0.55">20:00</text>
<text x="755.20" y="40.4" font-size="24.5" letter-spacing="0.283" style="stroke:#131722;stroke-width:0.55">UTC+5:30</text>
<text x="36.10" y="94" font-size="24" letter-spacing="0.364" style="stroke:#131722;stroke-width:0.55">Cardano</text>
<text x="138.30" y="94" font-size="24" style="stroke:#131722;stroke-width:0.55">/</text>
<text x="152.90" y="94" font-size="24" letter-spacing="-1.232" style="stroke:#131722;stroke-width:0.55">US</text>
<text x="192.30" y="94" font-size="24" letter-spacing="0.507" style="stroke:#131722;stroke-width:0.55">Dollar,</text>
<text x="269.80" y="94" font-size="24" letter-spacing="-0.840" style="stroke:#131722;stroke-width:0.55">1D,</text>
<text x="312.10" y="94" font-size="24" letter-spacing="-0.297" style="stroke:#131722;stroke-width:0.55">BINANCE</text>
<text x="430.80" y="94" font-size="24" style="stroke:#131722;stroke-width:0.55">O</text>
<text x="450.80" y="94" font-size="24" letter-spacing="0.872" style="fill:#089981;stroke:#089981;stroke-width:0.55">0.345</text>
<text x="529.60" y="94" font-size="24" style="stroke:#131722;stroke-width:0.55">H</text>
<text x="548.00" y="94" font-size="24" letter-spacing="0.897" style="fill:#089981;stroke:#089981;stroke-width:0.55">0.356</text>
<text x="626.20" y="94" font-size="24" style="stroke:#131722;stroke-width:0.55">L</text>
<text x="640.50" y="94" font-size="24" letter-spacing="0.972" style="fill:#089981;stroke:#089981;stroke-width:0.55">0.343</text>
<text x="719.20" y="94" font-size="24" style="stroke:#131722;stroke-width:0.55">C</text>
<text x="737.60" y="94" font-size="24" letter-spacing="0.972" style="fill:#089981;stroke:#089981;stroke-width:0.55">0.349</text>
<text x="816.10" y="94" font-size="24" letter-spacing="1.235" style="fill:#089981;stroke:#089981;stroke-width:0.55">+0.004</text>
<text x="905.50" y="94" font-size="24" letter-spacing="-0.280" style="fill:#089981;stroke:#089981;stroke-width:0.55">(+1.16%)</text>
<text x="37.40" y="127.8" font-size="24" letter-spacing="0.284" style="stroke:#131722;stroke-width:0.55">Vol</text>
<text x="78.00" y="127.8" font-size="24" style="stroke:#131722;stroke-width:0.55">·</text>
<text x="92.90" y="127.8" font-size="24" letter-spacing="-1.170" style="stroke:#131722;stroke-width:0.55">ADA</text>
<text x="154.00" y="127.8" font-size="24" letter-spacing="0.197" style="fill:#26a69a;stroke:#26a69a;stroke-width:0.55">1.673</text>
<text x="219.80" y="127.8" font-size="24" style="fill:#26a69a;stroke:#26a69a;stroke-width:0.55">M</text>
<text x="36.10" y="161.8" font-size="24" letter-spacing="-1.050" style="stroke:#131722;stroke-width:0.55">EMA</text>
<text x="95.30" y="161.8" font-size="24" letter-spacing="0.671" style="stroke:#131722;stroke-width:0.55">(20,</text>
<text x="146.10" y="161.8" font-size="24" letter-spacing="0.715" style="stroke:#131722;stroke-width:0.55">close)</text>
<text x="229.60" y="161.8" font-size="24" letter-spacing="1.047" style="fill:#2962ff;stroke:#2962ff;stroke-width:0.55">0.363</text>
<text x="36.10" y="196" font-size="24" letter-spacing="-1.050" style="stroke:#131722;stroke-width:0.55">EMA</text>
<text x="95.30" y="196" font-size="24" letter-spacing="0.671" style="stroke:#131722;stroke-width:0.55">(50,</text>
<text x="146.10" y="196" font-size="24" letter-spacing="0.715" style="stroke:#131722;stroke-width:0.55">close)</text>
<text x="229.60" y="196" font-size="24" letter-spacing="0.072" style="fill:#ffeb3b;stroke:#ffeb3b;stroke-width:0.55">0.361</text>
<path d="M20 1756.2H35.4V1775.7H27.9V1763.9H20z" fill="#131722"/><circle cx="42.1" cy="1760.55" r="4.3" fill="#131722"/><path d="M50.75 1756.2H59.1L51 1775.7H42.4z" fill="#131722"/>
<text x="67.05" y="1777" font-size="26.5" letter-spacing="0.126" style="stroke:#131722;stroke-width:0.5">TradingView</text>
</svg></body></html>
